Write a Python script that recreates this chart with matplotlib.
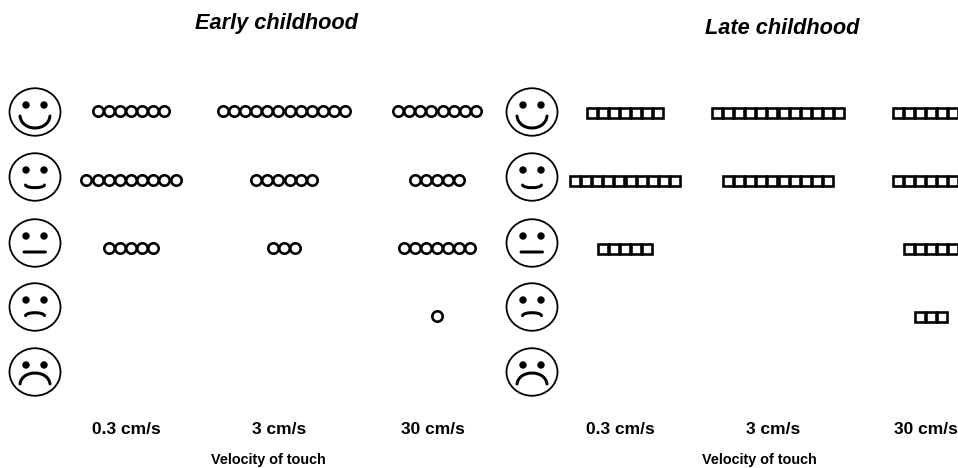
import matplotlib
matplotlib.use("Agg")
import matplotlib.pyplot as plt
from matplotlib.patches import Ellipse, PathPatch
from matplotlib.path import Path

plt.rcParams['font.family'] = ['Liberation Sans', 'DejaVu Sans']

# Data: number of symbols per rating row (top = happiest)
velocities = ["0.3 cm/s", "3 cm/s", "30 cm/s"]
early_03 = [7, 9, 5, 0, 0]
early_3 = [12, 6, 3, 0, 0]
early_30 = [8, 5, 7, 1, 0]
late_03 = [7, 10, 5, 0, 0]
late_3 = [12, 10, 0, 0, 0]
late_30 = [7, 7, 5, 3, 0]
titles = ["Early childhood", "Late childhood"]
xlabel = "Velocity of touch"

# Layout (pixels)
W, H = 958, 468
PITCH = 11.15
circle_rows = [111, 180, 248, 316, 384]
square_rows = [112.5, 181, 249, 317, 385]
face_rows = [112, 177, 243, 307, 372]
# mouth: left, right, end y, extreme y (relative to the face centre)
mouths = [(-15, 15, 4, 16), (-9.5, 9.5, 8, 10.7), (-11, 10.5, 9, 9),
          (-9.5, 9.5, 8.7, 5.7), (-15, 15, 12, 1)]

fig = plt.figure(figsize=(W / 100, H / 100), dpi=100)
ax = fig.add_axes([0, 0, 1, 1])
ax.set_xlim(0, W)
ax.set_ylim(H, 0)
ax.axis("off")
px = 72 / 100


def face(cx, cy, m):
    ax.add_patch(Ellipse((cx, cy), 51, 47.5, fc="white", ec="black", lw=1.8 * px))
    for dx in (-9, 9):
        ax.add_patch(Ellipse((cx + dx, cy - 7), 7.4, 7.4, fc="black", ec="none"))
    x0, x1, ye, ym = m
    yc = ye + (ym - ye) * 4 / 3
    w = (x1 - x0) * 0.06
    path = Path([(cx + x0, cy + ye), (cx + x0 + w, cy + yc), (cx + x1 - w, cy + yc), (cx + x1, cy + ye)],
                [Path.MOVETO, Path.CURVE4, Path.CURVE4, Path.CURVE4])
    ax.add_patch(PathPatch(path, fc="none", ec="black", lw=3 * px, capstyle="round"))


def symbols(center, counts, rows, marker, size, lw):
    for n, y in zip(counts, rows):
        if n == 0:
            continue
        xs = [center + (i - (n - 1) / 2) * PITCH for i in range(n)]
        ax.plot(xs, [y] * n, ls="none", marker=marker, ms=size * px, mfc="white",
                mec="black", mew=lw * px, clip_on=False)


for y, m in zip(face_rows, mouths):
    face(35, y, m)
    face(532, y, m)

for cx, c in zip((131, 284, 437), (early_03, early_3, early_30)):
    symbols(cx, c, circle_rows, "o", 10.4, 2.6)
for cx, c in zip((625, 778, 931), (late_03, late_3, late_30)):
    symbols(cx, c, square_rows, "s", 10.8, 2.6)

bold = dict(ha="center", va="center", fontweight="bold", color="black")
ax.text(276, 24, titles[0], fontsize=15.7, fontstyle="italic", **bold)
ax.text(782, 29, titles[1], fontsize=15.7, fontstyle="italic", **bold)
for cx, v in zip((126.5, 279.5, 432.5), velocities):
    ax.text(cx, 429, v, fontsize=12.5, **bold)
for cx, v in zip((620.5, 773.5, 925.5), velocities):
    ax.text(cx, 429, v, fontsize=12.5, **bold)
ax.text(268, 460, xlabel, fontsize=10.4, **bold)
ax.text(759, 460, xlabel, fontsize=10.4, **bold)

fig.savefig("out.png", dpi=100, facecolor="white")
